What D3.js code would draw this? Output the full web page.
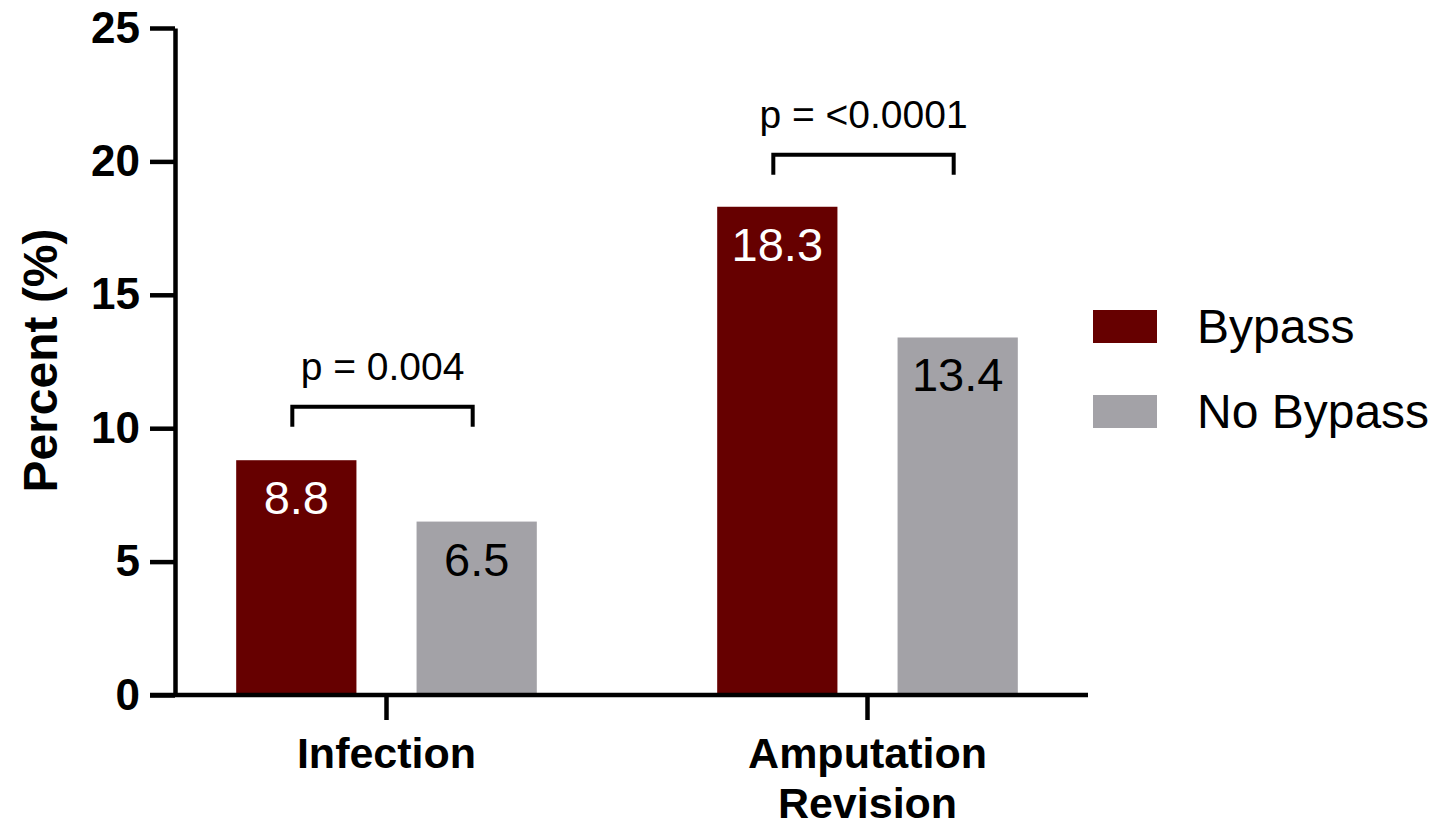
<!DOCTYPE html>
<html>
<head>
<meta charset="utf-8">
<script src="https://cdn.jsdelivr.net/npm/d3@7"></script>
<style>
    body { margin: 0; background: #fff; }
    text { font-family: "Liberation Sans", Arial, sans-serif; }
</style>
</head>
<body>
<div id="chart-area"></div>
<script>

// data
const categories = ["Infection", "Amputation Revision"];
const seriesNames = ["Bypass", "No Bypass"];
const bypassValues = [8.8, 18.3];
const noBypassValues = [6.5, 13.4];
const pLabels = ["p = 0.004", "p = <0.0001"];
const bracketLevels = [10.8, 20.25];
const yTicks = [0, 5, 10, 15, 20, 25];

const seriesColors = ["#660000", "#a3a2a7"];
const labelColors = ["#ffffff", "#000000"];

let margin = {top: 28, right: 349, bottom: 134, left: 175};
let width = 1437 - margin.left - margin.right;
let height = 829 - margin.top - margin.bottom;

let svg = d3.select("#chart-area").append("svg")
    .attr("width", 1437)
    .attr("height", 829)
    .append("g")
    .attr("transform", "translate(" + margin.left + "," + margin.top + ")");

// table for grouped bars
let rows = categories.map((c, i) => ({
    category: c,
    values: [bypassValues[i], noBypassValues[i]]
}));

// Scales
let x0 = d3.scaleBand()
    .domain(categories)
    .range([-29, 933])
    .padding(0);

let x1 = d3.scaleBand()
    .domain(seriesNames)
    .range([0, x0.bandwidth()])
    .paddingInner(1 / 3)
    .paddingOuter(0.5);

let y = d3.scaleLinear()
    .domain([0, 25])
    .range([height, 0]);

// bars
let groups = svg.selectAll(".group")
    .data(rows)
    .enter()
    .append("g")
    .attr("class", "group")
    .attr("transform", d => "translate(" + x0(d.category) + ",0)");

groups.selectAll("rect")
    .data(d => d.values.map((v, i) => ({name: seriesNames[i], value: v, idx: i})))
    .enter()
    .append("rect")
    .attr("x", d => x1(d.name))
    .attr("y", d => y(d.value))
    .attr("width", x1.bandwidth())
    .attr("height", d => height - y(d.value))
    .attr("fill", d => seriesColors[d.idx]);

groups.selectAll(".val")
    .data(d => d.values.map((v, i) => ({name: seriesNames[i], value: v, idx: i})))
    .enter()
    .append("text")
    .attr("class", "val")
    .attr("x", d => x1(d.name) + x1.bandwidth() / 2)
    .attr("y", d => y(d.value) + 54)
    .attr("text-anchor", "middle")
    .attr("font-size", 47)
    .attr("fill", d => labelColors[d.idx])
    .text(d => d.value.toFixed(1));

// significance brackets
groups.each(function(d, i) {
    let g = d3.select(this);
    let xa = x1(seriesNames[0]) + x1.bandwidth() / 2 - 4;
    let xb = x1(seriesNames[1]) + x1.bandwidth() / 2 - 4;
    let yt = y(bracketLevels[i]);
    g.append("path")
        .attr("d", "M" + xa + "," + (yt + 20) + "V" + yt + "H" + xb + "V" + (yt + 20))
        .attr("fill", "none")
        .attr("stroke", "#000")
        .attr("stroke-width", 4);
    g.append("text")
        .attr("x", (xa + xb) / 2)
        .attr("y", yt - 27)
        .attr("text-anchor", "middle")
        .attr("font-size", 39)
        .text(pLabels[i]);
});

// y axis
let yAxis = d3.axisLeft(y)
    .tickValues(yTicks)
    .tickSizeInner(25)
    .tickSizeOuter(0)
    .tickPadding(10);

let yAxisGroup = svg.append("g")
    .attr("class", "y-axis axis")
    .call(yAxis);

yAxisGroup.selectAll("path, line")
    .attr("stroke", "#000")
    .attr("stroke-width", 4.5);
yAxisGroup.selectAll("text")
    .attr("font-size", 44)
    .attr("font-weight", "bold")
    .attr("font-family", "'Liberation Sans', Arial, sans-serif")
    .attr("fill", "#000");

// x axis
let xAxis = d3.axisBottom(x0)
    .tickSizeInner(25)
    .tickSizeOuter(0)
    .tickFormat("");

let xAxisGroup = svg.append("g")
    .attr("class", "x-axis axis")
    .attr("transform", "translate(0," + height + ")")
    .call(xAxis);

xAxisGroup.select(".domain").remove();
xAxisGroup.selectAll("line")
    .attr("stroke", "#000")
    .attr("stroke-width", 4.5);

xAxisGroup.append("line")
    .attr("x1", -25)
    .attr("x2", width)
    .attr("stroke", "#000")
    .attr("stroke-width", 4.5);

xAxisGroup.selectAll(".tick").append("text")
    .attr("font-size", 43)
    .attr("font-weight", "bold")
    .attr("font-family", "'Liberation Sans', Arial, sans-serif")
    .attr("fill", "#000")
    .attr("text-anchor", "middle")
    .selectAll("tspan")
    .data(d => d.split(" "))
    .enter()
    .append("tspan")
    .attr("x", 0)
    .attr("y", (d, i) => 73 + i * 50)
    .text(d => d);

// y title
svg.append("text")
    .attr("transform", "rotate(-90)")
    .attr("x", -height / 2 + 1)
    .attr("y", -118)
    .attr("text-anchor", "middle")
    .attr("font-size", 48)
    .attr("font-weight", "bold")
    .text("Percent (%)");

// legend
let legend = svg.append("g")
    .attr("transform", "translate(" + (width + 5) + ",282)");

seriesNames.forEach((name, i) => {
    legend.append("rect")
        .attr("x", 0)
        .attr("y", i * 85)
        .attr("width", 64)
        .attr("height", 33)
        .attr("fill", seriesColors[i]);
    legend.append("text")
        .attr("x", 104)
        .attr("y", i * 85 + 33)
        .attr("font-size", 48)
        .text(name);
});

</script>
</body>
</html>
